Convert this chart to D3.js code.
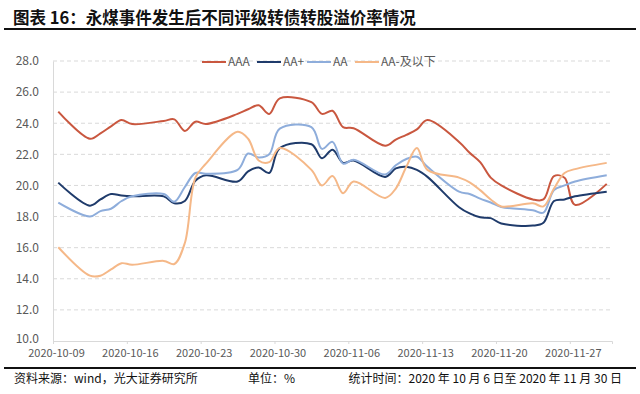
<!DOCTYPE html>
<html>
<head>
<meta charset="utf-8">
<script src="https://cdn.jsdelivr.net/npm/d3@7"></script>
<style>
  body { margin: 0; background: #fff; }
  svg text { font-family: "Noto Sans CJK SC", "Noto Sans", sans-serif; }
</style>
</head>
<body>
<svg id="chart" width="640" height="394"></svg>
<script>
// handelsdagen
var dates = ["2020-10-09",
  "2020-10-12","2020-10-13","2020-10-14","2020-10-15","2020-10-16",
  "2020-10-19","2020-10-20","2020-10-21","2020-10-22","2020-10-23",
  "2020-10-26","2020-10-27","2020-10-28","2020-10-29","2020-10-30",
  "2020-11-02","2020-11-03","2020-11-04","2020-11-05","2020-11-06",
  "2020-11-09","2020-11-10","2020-11-11","2020-11-12","2020-11-13",
  "2020-11-16","2020-11-17","2020-11-18","2020-11-19","2020-11-20",
  "2020-11-23","2020-11-24","2020-11-25","2020-11-26","2020-11-27",
  "2020-11-30"];

var seriesNames = ["AAA", "AA+", "AA", "AA-及以下"];

var aaa = [24.75,
  23.0, 23.35, 23.8, 24.2, 23.95,
  24.15, 24.25, 23.5, 24.1, 23.95,
  24.6, 24.9, 25.15, 24.6, 25.6,
  25.35, 24.6, 24.8, 23.75, 23.68,
  22.55, 22.95, 23.25, 23.6, 24.2,
  22.8, 22.1, 21.5, 20.5, 20.0,
  19.1, 19.1, 20.6, 20.5, 18.75,
  20.1];

var aaPlus = [20.18,
  18.7, 19.1, 19.45, 19.35, 19.3,
  19.3, 18.85, 19.0, 20.3, 20.65,
  20.25, 20.9, 21.15, 20.8, 22.4,
  22.65, 21.75, 22.3, 21.45, 21.6,
  20.55, 21.1, 21.2, 21.0, 20.55,
  18.6, 18.2, 17.95, 17.9, 17.55,
  17.42, 17.6, 19.0, 19.1, 19.3,
  19.6];

var aa = [18.89,
  18.0, 18.35, 18.5, 19.0, 19.3,
  19.45, 18.95, 19.9, 20.8, 20.75,
  21.0, 22.05, 21.8, 22.0, 23.65,
  23.75, 22.35, 22.8, 21.4, 21.65,
  20.7, 21.3, 21.7, 21.85, 21.2,
  19.6, 19.45, 19.15, 18.9, 18.62,
  18.4, 18.25, 19.7, 20.0, 20.25,
  20.65];

var aaMinus = [16.03,
  14.2, 14.2, 14.6, 15.0, 14.9,
  15.15, 14.95, 16.3, 20.5, 21.4,
  23.45, 23.0, 21.6, 21.5, 22.4,
  21.0, 20.0, 20.6, 19.5, 20.25,
  19.2, 19.8, 21.2, 22.4, 21.0,
  20.5, 20.2, 19.7, 19.1, 18.65,
  18.85, 18.65, 19.8, 20.8, 21.05,
  21.45];

var yTicks = [10, 12, 14, 16, 18, 20, 22, 24, 26, 28];
var xTickLabels = ["2020-10-09","2020-10-16","2020-10-23","2020-10-30",
  "2020-11-06","2020-11-13","2020-11-20","2020-11-27"];

var colors = ["#C9573F", "#1F3B6B", "#8EADDB", "#F5B888"];

var svg = d3.select("#chart");
var parse = d3.utcParse("%Y-%m-%d");
var plotLeft = 53, plotRight = 612, plotTop = 61, plotBottom = 341;

// titel
svg.append("text")
  .attr("x", 13).attr("y", 24)
  .attr("font-size", 16.5).attr("font-weight", "bold").attr("fill", "#111")
  .text("图表 16：永煤事件发生后不同评级转债转股溢价率情况");
svg.append("line")
  .attr("x1", 4).attr("x2", 636).attr("y1", 29).attr("y2", 29)
  .attr("stroke", "#111").attr("stroke-width", 2);

// schalen: elke dag is een categorie, punt in het midden
var x = d3.scaleUtc()
  .domain([parse("2020-10-09"), parse("2020-12-01")])
  .range([plotLeft, plotRight]);
var y = d3.scaleLinear().domain([10, 28]).range([plotBottom, plotTop]);

function midDay(s) { return d3.utcHour.offset(parse(s), 12); }

// rasterlijnen
svg.append("g")
  .selectAll("line")
  .data(yTicks.slice(1))
  .enter().append("line")
    .attr("x1", plotLeft).attr("x2", plotRight)
    .attr("y1", function(d) { return y(d); }).attr("y2", function(d) { return y(d); })
    .attr("stroke", "#D9D9D9").attr("stroke-dasharray", "4,3");

// y-as
var yAxis = svg.append("g")
  .attr("transform", "translate(" + plotLeft + ",0)")
  .call(d3.axisLeft(y).tickValues(yTicks).tickFormat(d3.format(".1f")).tickSize(0).tickPadding(14));
yAxis.select(".domain").attr("stroke", "#D9D9D9");
yAxis.selectAll("text").attr("font-size", 12).attr("fill", "#595959");
// onderste label iets omhoog zodat het niet op de datums valt
yAxis.selectAll(".tick").filter(function(d) { return d === 10; })
  .select("text").attr("dy", "0.1em");

// x-as
var xAxis = svg.append("g")
  .attr("transform", "translate(0," + plotBottom + ")")
  .call(d3.axisBottom(x).tickValues(xTickLabels.map(parse))
    .tickFormat(d3.utcFormat("%Y-%m-%d")).tickSize(3).tickPadding(5));
xAxis.select(".domain").attr("stroke", "#D9D9D9");
xAxis.selectAll(".tick line").attr("stroke", "#D9D9D9");
xAxis.selectAll("text").attr("font-size", 11).attr("fill", "#595959").attr("x", 3);

// lijnen
var allSeries = [aaa, aaPlus, aa, aaMinus];
var line = d3.line()
  .x(function(d, i) { return x(midDay(dates[i])); })
  .y(function(d) { return y(d); })
  .curve(d3.curveCatmullRom.alpha(0.5));

svg.append("g")
  .selectAll("path")
  .data(allSeries)
  .enter().append("path")
    .attr("fill", "none")
    .attr("stroke", function(d, i) { return colors[i]; })
    .attr("stroke-width", 2)
    .attr("d", line);

// legenda
var legendX = [202, 257, 307, 355];
var legend = svg.append("g")
  .selectAll("g")
  .data(seriesNames)
  .enter().append("g")
    .attr("transform", function(d, i) { return "translate(" + legendX[i] + ",62)"; });
legend.append("line")
  .attr("x1", 0).attr("x2", 24)
  .attr("stroke", function(d, i) { return colors[i]; })
  .attr("stroke-width", 2);
legend.append("text")
  .attr("x", 26).attr("dy", "0.35em")
  .attr("font-size", 12).attr("fill", "#595959")
  .text(function(d) { return d; });

// voetregel
svg.append("line")
  .attr("x1", 4).attr("x2", 636).attr("y1", 368).attr("y2", 368)
  .attr("stroke", "#111").attr("stroke-width", 2);
var foot = svg.append("g").attr("font-size", 12).attr("fill", "#111");
foot.append("text").attr("x", 14).attr("y", 383).text("资料来源：wind，光大证券研究所");
foot.append("text").attr("x", 248).attr("y", 383).text("单位：%");
foot.append("text").attr("x", 622).attr("y", 383).attr("text-anchor", "end")
  .text("统计时间：2020 年 10 月 6 日至 2020 年 11 月 30 日");
</script>
</body>
</html>
